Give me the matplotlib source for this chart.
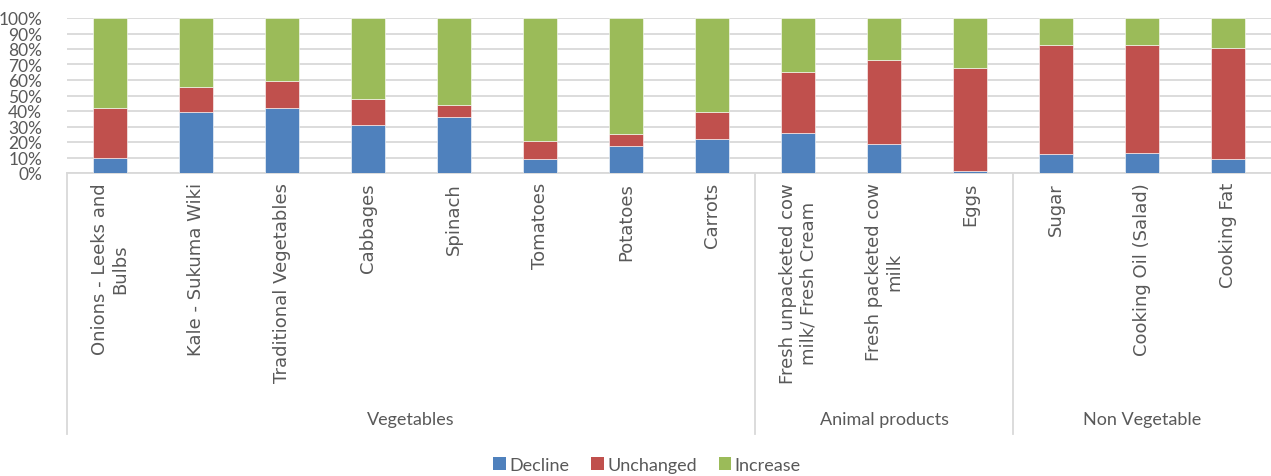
import matplotlib
matplotlib.use("Agg")
import matplotlib.pyplot as plt
from matplotlib.patches import Patch
from matplotlib.lines import Line2D
import numpy as np

categories = ["Onions - Leeks and\nBulbs", "Kale - Sukuma Wiki", "Traditional Vegetables",
              "Cabbages", "Spinach", "Tomatoes", "Potatoes", "Carrots",
              "Fresh unpacketed cow\nmilk/ Fresh Cream", "Fresh packeted cow\nmilk", "Eggs",
              "Sugar", "Cooking Oil (Salad)", "Cooking Fat"]
groups = ["Vegetables", "Animal products", "Non Vegetable"]
group_sizes = [8, 3, 3]

decline = [9.5, 39.4, 42.1, 31.2, 35.9, 9.2, 17.4, 22.1, 25.6, 18.5, 1.5, 12.1, 12.9, 9.2]
unchanged = [32.4, 16.3, 17.5, 16.5, 8.2, 11.6, 8.0, 17.3, 39.4, 54.6, 66.2, 70.3, 69.5, 71.4]
increase = [100 - d - u for d, u in zip(decline, unchanged)]

series_names = ["Decline", "Unchanged", "Increase"]
colors = ["#4F81BD", "#C0504D", "#9BBB59"]

W, H = 1271, 477
fig = plt.figure(figsize=(W / 100, H / 100), dpi=100)
ax = fig.add_axes([67 / W, 1 - 174 / H, (1271 - 67) / W, (174 - 19) / H])

x = np.arange(len(categories))
bw = 0.4
bottom = np.zeros(len(categories))
for vals, c, name in zip([decline, unchanged, increase], colors, series_names):
    v = np.array(vals) / 100
    ax.bar(x, v, bw, bottom=bottom, color=c, label=name, zorder=3,
           edgecolor="white", linewidth=0.4)
    bottom += v

ax.set_xlim(-0.5, len(categories) - 0.5)
ax.set_ylim(0, 1)
yt = np.arange(0, 1.01, 0.1)
ax.set_yticks(yt)
ax.set_yticklabels([f"{int(round(t*100))}%" for t in yt], fontfamily="Lato",
                   fontsize=12.5, color="#595959")
ax.tick_params(axis="y", length=0, pad=18)
ax.set_xticks([])
ax.grid(axis="y", color="#D9D9D9", linewidth=1.3, zorder=0)
for s in ["top", "right", "left"]:
    ax.spines[s].set_visible(False)
ax.spines["bottom"].set_color("#D9D9D9")
ax.spines["bottom"].set_linewidth(1.3)

tr = ax.get_xaxis_transform()
for i, lab in enumerate(categories):
    ax.annotate(lab, xy=(i, 0), xycoords=tr, xytext=(0, -6.5), textcoords="offset points",
                rotation=90, ha="center", va="top", multialignment="center",
                fontsize=13, fontfamily="DejaVu Sans", color="#595959")

# group separators and labels
ybot = -(435 - 174) / 155
start = 0
bounds = [-0.5]
for g, n in zip(groups, group_sizes):
    center = start + (n - 1) / 2
    ax.text(center, -(420 - 174) / 155, g, transform=tr, ha="center", va="center",
            fontsize=13, fontfamily="Lato", color="#595959")
    start += n
    bounds.append(start - 0.5)
for b in bounds[:-1]:
    ax.add_line(Line2D([b, b], [0, ybot], transform=tr, color="#D9D9D9",
                       linewidth=1.3, clip_on=False))

handles = [Patch(facecolor=c, label=n) for c, n in zip(colors, series_names)]
leg = fig.legend(handles=handles, loc="center", bbox_to_anchor=(647 / W, 1 - 466 / H),
                 ncol=3, frameon=False, handlelength=0.7, handleheight=0.7,
                 handletextpad=0.2, columnspacing=1.2,
                 prop={"family": "Lato", "size": 13})
for t in leg.get_texts():
    t.set_color("#595959")

fig.savefig("out.png", dpi=100)
